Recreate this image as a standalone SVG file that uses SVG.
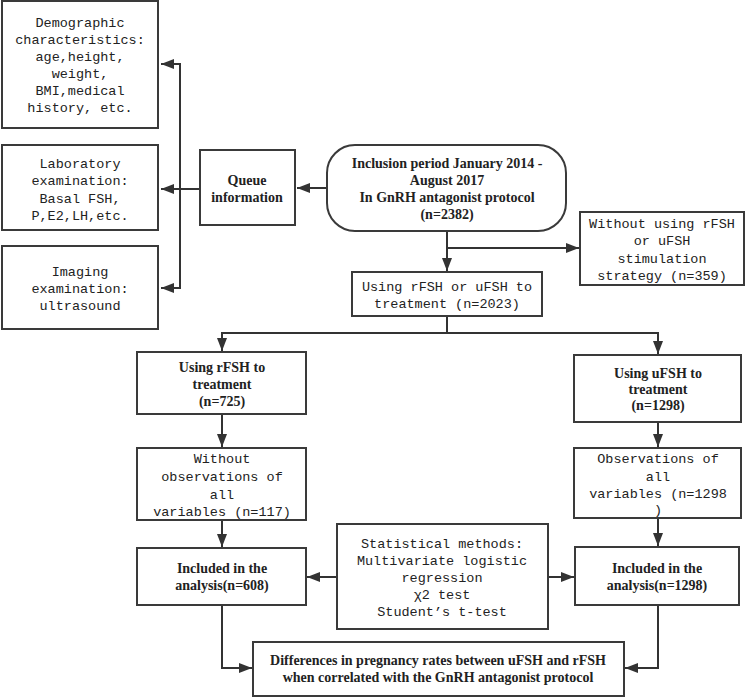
<svg xmlns="http://www.w3.org/2000/svg" width="746" height="698" viewBox="0 0 746 698">
<defs>
<marker id="ah" markerUnits="userSpaceOnUse" markerWidth="14" markerHeight="12" refX="13" refY="5" orient="auto">
<path d="M0,0 L13,5 L0,10 Z" fill="#333"/>
</marker>
<style>
.box{fill:#fff;stroke:#3a3a3a;stroke-width:2}
.m{font-family:"Liberation Mono","DejaVu Sans Mono",monospace;font-size:13.5px;fill:#222;text-anchor:middle}
.b{font-family:"Liberation Serif","Times New Roman",serif;font-weight:bold;font-size:14px;fill:#222;text-anchor:middle}
.c{fill:none;stroke:#333;stroke-width:2}
</style>
</defs>
<rect width="746" height="698" fill="#fff"/>
<g id="connectors">
<path class="c" d="M200,189 H161" marker-end="url(#ah)"/>
<path class="c" d="M180,189 V64 H161" marker-end="url(#ah)"/>
<path class="c" d="M180,189 V288 H161" marker-end="url(#ah)"/>
<path class="c" d="M327,188 H297" marker-end="url(#ah)"/>
<path class="c" d="M447,231 V271" marker-end="url(#ah)"/>
<path class="c" d="M447,248 H579" marker-end="url(#ah)"/>
<path class="c" d="M447,316 V333 H222 V351" marker-end="url(#ah)"/>
<path class="c" d="M447,333 H658 V354" marker-end="url(#ah)"/>
<path class="c" d="M222,414 V447" marker-end="url(#ah)"/>
<path class="c" d="M222,520 V547" marker-end="url(#ah)"/>
<path class="c" d="M658,422 V447" marker-end="url(#ah)"/>
<path class="c" d="M658,518 V546" marker-end="url(#ah)"/>
<path class="c" d="M337,577 H307" marker-end="url(#ah)"/>
<path class="c" d="M548,577 H574" marker-end="url(#ah)"/>
<path class="c" d="M222,605 V668 H252" marker-end="url(#ah)"/>
<path class="c" d="M658,605 V668 H625" marker-end="url(#ah)"/>
</g>
<g id="demographic">
<rect class="box" x="2" y="1" width="156" height="127"/>
<text class="m" x="80" y="27">Demographic</text>
<text class="m" x="80" y="44">characteristics:</text>
<text class="m" x="80" y="61">age,height,</text>
<text class="m" x="80" y="78">weight,</text>
<text class="m" x="80" y="95">BMI,medical</text>
<text class="m" x="80" y="112">history, etc.</text>
</g>
<g id="laboratory">
<rect class="box" x="2" y="145" width="156" height="85"/>
<text class="m" x="80" y="168">Laboratory</text>
<text class="m" x="80" y="185">examination:</text>
<text class="m" x="80" y="203">Basal FSH,</text>
<text class="m" x="80" y="220">P,E2,LH,etc.</text>
</g>
<g id="imaging">
<rect class="box" x="2" y="246" width="156" height="83"/>
<text class="m" x="80" y="276">Imaging</text>
<text class="m" x="80" y="293">examination:</text>
<text class="m" x="80" y="310">ultrasound</text>
</g>
<g id="queue">
<rect class="box" x="200" y="150" width="95" height="75"/>
<text class="b" x="247" y="185">Queue</text>
<text class="b" x="247" y="202">information</text>
</g>
<g id="inclusion">
<rect class="box" x="327" y="145" width="239" height="86" rx="28" ry="28"/>
<text class="b" x="447" y="168">Inclusion period January 2014 -</text>
<text class="b" x="447" y="185">August 2017</text>
<text class="b" x="447" y="202">In GnRH antagonist protocol</text>
<text class="b" x="447" y="219">(n=2382)</text>
</g>
<g id="without">
<rect class="box" x="580" y="212" width="164" height="73"/>
<text class="m" x="662" y="228">Without using rFSH</text>
<text class="m" x="662" y="245">or uFSH</text>
<text class="m" x="662" y="263">stimulation</text>
<text class="m" x="662" y="280">strategy (n=359)</text>
</g>
<g id="using">
<rect class="box" x="352" y="272" width="190" height="44"/>
<text class="m" x="447" y="291">Using rFSH or uFSH to</text>
<text class="m" x="447" y="308">treatment (n=2023)</text>
</g>
<g id="rfsh">
<rect class="box" x="137" y="352" width="169" height="62"/>
<text class="b" x="222" y="372">Using rFSH to</text>
<text class="b" x="222" y="389">treatment</text>
<text class="b" x="222" y="406">(n=725)</text>
</g>
<g id="without-obs">
<rect class="box" x="137" y="448" width="169" height="72"/>
<text class="m" x="222" y="463">Without</text>
<text class="m" x="222" y="481">observations of</text>
<text class="m" x="222" y="499">all</text>
<text class="m" x="222" y="516">variables (n=117)</text>
</g>
<g id="included-r">
<rect class="box" x="137" y="548" width="169" height="57"/>
<text class="b" x="222" y="573">Included in the</text>
<text class="b" x="222" y="590">analysis(n=608)</text>
</g>
<g id="ufsh">
<rect class="box" x="574" y="355" width="167" height="67"/>
<text class="b" x="658" y="378">Using uFSH to</text>
<text class="b" x="658" y="394">treatment</text>
<text class="b" x="658" y="410">(n=1298)</text>
</g>
<g id="obs">
<rect class="box" x="574" y="448" width="167" height="70"/>
<text class="m" x="658" y="463">Observations of</text>
<text class="m" x="658" y="481">all</text>
<text class="m" x="658" y="498">variables (n=1298</text>
<text class="m" x="658" y="514">)</text>
</g>
<g id="included-u">
<rect class="box" x="575" y="547" width="164" height="58"/>
<text class="b" x="657" y="573">Included in the</text>
<text class="b" x="657" y="590">analysis(n=1298)</text>
</g>
<g id="stats">
<rect class="box" x="337" y="524" width="211" height="105"/>
<text class="m" x="442" y="548">Statistical methods:</text>
<text class="m" x="442" y="565">Multivariate logistic</text>
<text class="m" x="442" y="582">regression</text>
<text class="m" x="442" y="599">χ2 test</text>
<text class="m" x="442" y="616">Student’s t-test</text>
</g>
<g id="differences">
<rect class="box" x="253" y="642" width="371" height="54"/>
<text class="b" x="438" y="665">Differences in pregnancy rates between uFSH and rFSH</text>
<text class="b" x="438" y="682">when correlated with the GnRH antagonist protocol</text>
</g>
</svg>
